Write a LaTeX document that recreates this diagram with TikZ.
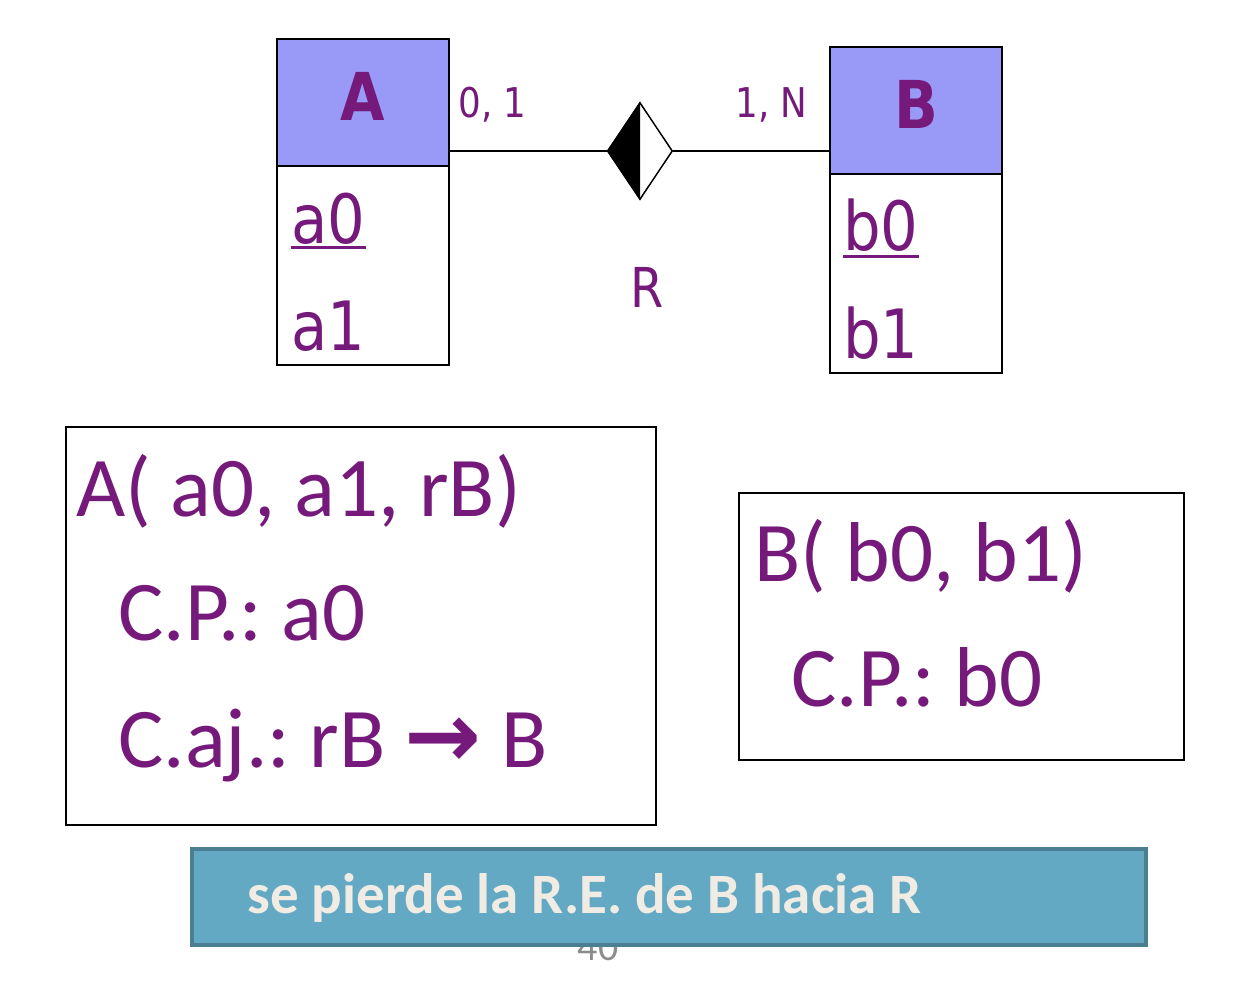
\documentclass[tikz,border=0pt]{standalone}
\usepackage{fontspec}
\setmainfont{Carlito}
\newfontfamily\tahfont{DejaVu Sans}[FakeStretch=0.87]
\newfontfamily\arrfont{DejaVu Sans}
\usetikzlibrary{positioning,shapes.geometric}
\definecolor{txtpurple}{RGB}{117,25,123}
\definecolor{entfill}{RGB}{153,153,247}
\definecolor{barfill}{RGB}{100,169,196}
\definecolor{barline}{RGB}{74,126,144}
\definecolor{bartext}{RGB}{240,236,228}
\definecolor{pagegray}{RGB}{140,140,140}
\frenchspacing

\begin{document}
\begin{tikzpicture}[
  x=0.5pt, y=-0.5pt,
  head/.style={rectangle, draw=black, fill=entfill, line width=1pt, minimum width=86pt, minimum height=63.5pt, inner sep=0pt, text depth=6pt, text=txtpurple, font=\tahfont\bfseries\fontsize{33pt}{36pt}\selectfont},
  attrs/.style={rectangle, draw=black, fill=white, line width=1pt, minimum width=86pt, minimum height=99.5pt, inner sep=0pt},
  attr/.style={anchor=base west, inner sep=0pt, text=txtpurple, font=\tahfont\fontsize{34pt}{40pt}\selectfont},
  card/.style={inner sep=0pt, text=txtpurple, font=\tahfont\fontsize{20.5pt}{24pt}\selectfont},
  ul/.style={draw=txtpurple, line width=1.5pt},
  conn/.style={draw=black, line width=0.75pt},
  relbox/.style={rectangle, draw=black, line width=1pt, inner sep=0pt},
  rtext/.style={anchor=base west, inner sep=0pt, text=txtpurple, font=\fontsize{42.5pt}{50pt}\selectfont}
]
  \useasboundingbox (0,0) rectangle (1236,984);

  % entidades
  \node[head] (ah) at (363,102.5) {A};
  \node[attrs, below=-1pt of ah] (ab) {};
  \node[head] (bh) at (916,110.5) {B};
  \node[attrs, below=-1pt of bh] (bb) {};

  \node[attr] (a0) at (291,243) {a0};
  \node[attr] (a1) at (291,350) {a1};
  \node[attr] (b0) at (843,250) {b0};
  \node[attr] (b1) at (843,358) {b1};
  \draw[ul] ([yshift=-2.5pt]a0.base west) -- ([yshift=-2.5pt]a0.base east);
  \draw[ul] ([yshift=-3.5pt]b0.base west) -- ([yshift=-3.5pt]b0.base east);

  % relacion
  \node[diamond, draw=black, line width=0.75pt, fill=white, minimum width=32.5pt, minimum height=48.5pt, inner sep=0pt] (rel) at (640,151) {};
  \fill[black] (rel.west) -- (rel.north) -- (rel.south) -- cycle;
  \draw[conn] (rel.west) -- (rel.west -| ah.east);
  \draw[conn] (rel.east) -- (rel.east -| bh.west);
  \node[card, anchor=base west] (ca) at (458,118) {0, 1};
  \node[card, anchor=base east] (cb) at (808,118) {1, N};
  \node[inner sep=0pt, anchor=base, text=txtpurple, font=\tahfont\fontsize{27.5pt}{32pt}\selectfont] (rname) at (647,307) {R};

  % tablas
  \node[relbox, minimum width=295pt, minimum height=199pt] (ta) at (361,626) {};
  \node[rtext] (ta1) at (76,516) {A( a0, a1, rB)};
  \node[rtext] (ta2) at (118,640) {C.P.: a0};
  \node[rtext] (ta3) at (118,767) {C.aj.: rB {\arrfont\bfseries\fontsize{46pt}{50pt}\selectfont →} B};

  \node[relbox, minimum width=222.5pt, minimum height=133.5pt] (tb) at (961.5,626.5) {};
  \node[rtext] (tb1) at (754,581) {B( b0, b1)};
  \node[rtext] (tb2) at (791,706) {C.P.: b0};

  % nota
  \node[anchor=base, inner sep=0pt, text=pagegray, font=\fontsize{20pt}{24pt}\selectfont] (pnum) at (598,960) {40};
  \node[rectangle, draw=barline, fill=barfill, line width=2pt, minimum width=477pt, minimum height=48pt, inner sep=0pt] (bar) at (669,897) {};
  \node[anchor=base west, inner sep=0pt, text=bartext, font=\bfseries\fontsize{28.5pt}{34pt}\selectfont] (note) at (247,913) {se pierde la R.E. de B hacia R};
\end{tikzpicture}
\end{document}
